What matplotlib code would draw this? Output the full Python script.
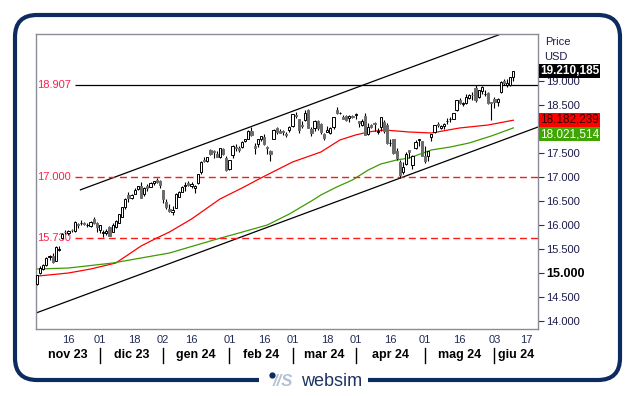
import numpy as np
import pandas as pd
import matplotlib
matplotlib.use("Agg")
import matplotlib.pyplot as plt
from matplotlib.patches import FancyBboxPatch, Rectangle

plt.rcParams['font.family'] = ['Liberation Sans', 'DejaVu Sans']

# trading days shown on the axis (exchange holidays removed)
holidays = ["2023-11-23", "2023-12-25", "2024-01-01", "2024-01-15", "2024-02-19",
            "2024-03-29", "2024-05-27", "2024-06-19"]
days = pd.bdate_range("2023-11-02", "2024-06-21")
days = days[~days.isin(pd.to_datetime(holidays))]

# daily candles, 2023-11-02 .. 2024-06-11
opens = [14760, 15000, 15080, 15170, 15330, 15360, 15250, 15480, 15720, 15860,
         15820, 15900, 15870, 16010, 16030, 16030, 15990, 15980, 16130, 16030,   # nov
         15900, 15830, 15820, 15950, 15850, 15950, 16040, 16170, 16380, 16620,
         16560, 16650, 16740, 16820, 16650, 16800, 16780, 16880, 16930, 16910,   # dic
         16720, 16480, 16330, 16270, 16360, 16580, 16690, 16800, 16870, 16800,
         16760, 16880, 17110, 17360, 17340, 17560, 17540, 17470, 17420, 17580, 17390,  # gen
         17170, 17460, 17620, 17610, 17630, 17740, 17800, 17960, 17650, 17680,
         17800, 17840, 17620, 17550, 17800, 18010, 17950, 17940, 17880, 17970,   # feb
         18060, 18300, 18200, 18080, 18180, 18400, 17990, 18010, 18170, 18100,
         17900, 17940, 17920, 18030, 18400, 18330, 18250, 18280, 18230, 18270,   # mar
         18290, 18160, 18080, 18270, 17900, 18080, 18110, 17930, 18030, 18150, 18080,
         17700, 17780, 17530, 17320, 17100, 17260, 17560, 17250, 17600, 17770, 17740,  # apr
         17430, 17440, 17840, 17930, 18100, 18010, 18060, 18160, 18200, 18210, 18400,
         18600, 18520, 18540, 18640, 18710, 18860, 18660, 18800, 18720, 18740, 18560,  # mag
         18620, 18560, 18760, 19000, 18920, 18910, 19080]                         # giu
highs = [14950, 15140, 15175, 15330, 15380, 15420, 15560, 15560, 15830, 15900,
         15900, 15920, 16080, 16030, 16100, 16050, 16040, 16080, 16170, 16050,
         16000, 15890, 15920, 15970, 16030, 16110, 16230, 16370, 16560, 16680,
         16650, 16760, 16810, 16900, 16780, 16860, 16890, 16910, 16970, 16930,
         16730, 16530, 16430, 16400, 16660, 16710, 16820, 16900, 16910, 16900,
         16830, 17070, 17330, 17410, 17420, 17590, 17560, 17530, 17600, 17600, 17440,
         17350, 17660, 17690, 17640, 17750, 17800, 17980, 18040, 17700, 17790,
         17860, 17890, 17650, 17560, 17990, 18040, 18000, 17980, 17930, 18060,
         18310, 18350, 18210, 18160, 18400, 18416, 18030, 18190, 18190, 18120,
         17920, 18060, 18030, 18240, 18460, 18360, 18290, 18300, 18290, 18300,
         18340, 18170, 18200, 18330, 18120, 18110, 18150, 18020, 18250, 18190, 18130,
         17780, 17800, 17600, 17360, 17320, 17510, 17570, 17450, 17760, 17800, 17750,
         17640, 17550, 17900, 18090, 18150, 18090, 18120, 18230, 18240, 18340, 18600,
         18650, 18560, 18720, 18720, 18760, 18907, 18820, 18890, 18810, 18760, 18570,
         18660, 18640, 19000, 19040, 19040, 19090, 19215]
lows = [14740, 14980, 15050, 15150, 15260, 15210, 15240, 15460, 15700, 15800,
        15790, 15840, 15860, 15930, 15990, 15990, 15960, 15950, 16020, 15850,
        15830, 15750, 15780, 15770, 15840, 15940, 16030, 16160, 16330, 16480,
        16530, 16640, 16730, 16550, 16600, 16700, 16780, 16840, 16880, 16760,
        16460, 16340, 16260, 16200, 16350, 16570, 16680, 16700, 16800, 16760,
        16670, 16860, 17070, 17300, 17320, 17450, 17400, 17410, 17400, 17460, 17130,
        17140, 17400, 17550, 17520, 17610, 17720, 17790, 17860, 17480, 17620,
        17750, 17660, 17480, 17330, 17780, 17900, 17910, 17880, 17830, 17930,
        18050, 18220, 17920, 18020, 18170, 18010, 17860, 17950, 17980, 17900,
        17760, 17930, 17900, 17990, 18320, 18310, 18210, 18170, 18140, 18230,
        18210, 18050, 18070, 17870, 17880, 18010, 17960, 17890, 17960, 17920, 17680,
        17650, 17480, 17360, 16974, 17060, 17250, 17400, 17170, 17580, 17650, 17440,
        17290, 17330, 17750, 17920, 18050, 17990, 18000, 18100, 18150, 18200, 18380,
        18530, 18470, 18530, 18620, 18600, 18560, 18650, 18720, 18690, 18520, 18190,
        18430, 18480, 18740, 18920, 18880, 18890, 19000]
closes = [14945, 15099, 15166, 15317, 15352, 15225, 15530, 15482, 15812, 15842,
          15880, 15887, 16068, 15987, 16040, 16007, 15996, 16069, 16030, 15947,
          15997, 15838, 15877, 15775, 16000, 16085, 16229, 16369, 16544, 16557,
          16624, 16730, 16800, 16560, 16762, 16777, 16878, 16907, 16898, 16826,
          16543, 16368, 16283, 16306, 16649, 16685, 16793, 16831, 16832, 16845,
          16800, 17063, 17314, 17330, 17417, 17470, 17516, 17421, 17596, 17476, 17137,
          17345, 17642, 17605, 17556, 17737, 17784, 17962, 17882, 17600, 17781,
          17845, 17685, 17601, 17483, 17972, 17937, 17922, 17937, 17874, 18043,
          18302, 18260, 17969, 18070, 18339, 18018, 17913, 18175, 18020, 17944,
          17808, 17985, 18021, 18240, 18339, 18339, 18211, 18177, 18280, 18255,
          18300, 18131, 18164, 17878, 18049, 18036, 18107, 17950, 18243, 17965, 17706,
          17707, 17493, 17394, 17037, 17210, 17471, 17526, 17431, 17718, 17783, 17441,
          17321, 17541, 17890, 18082, 18078, 18062, 18113, 18161, 18208, 18322, 18593,
          18537, 18546, 18675, 18713, 18705, 18596, 18809, 18869, 18736, 18538, 18536,
          18570, 18625, 18989, 18963, 18953, 19074, 19210.185]

# moving averages (candle index, value)
ma_red_idx = [0, 10, 17, 25, 33, 38, 42, 49, 58, 65, 71, 81, 90, 96, 101, 105, 110, 118, 125, 134, 143, 151]
ma_red = [14930, 14995, 15078, 15203, 15558, 15725, 15850, 16121, 16538, 16768, 16977,
          17310, 17519, 17769, 17874, 17936, 17978, 17936, 17915, 18020, 18082, 18182.239]
ma_green_idx = [0, 10, 24, 33, 42, 56, 64, 73, 80, 87, 90, 95, 100, 105, 109, 114, 118, 125, 131, 137, 144, 151]
ma_green = [15078, 15099, 15203, 15308, 15412, 15683, 15829, 15996, 16226, 16497, 16622,
            16789, 16935, 17143, 17269, 17352, 17394, 17561, 17623, 17707, 17853, 18021.514]

# trend channel (two points per line) and horizontal levels
chan_low = ([-0.3, 158.8], [14160, 18040])
chan_up = ([13.8, 158.8], [16730, 20266])
level_solid = 18907
levels_dashed = [17000, 15730]

tick_dates = ["2023-11-16", "2023-12-01", "2023-12-18", "2024-01-02", "2024-01-16",
              "2024-02-01", "2024-02-16", "2024-03-01", "2024-03-18", "2024-04-01",
              "2024-04-16", "2024-05-01", "2024-05-16", "2024-06-03", "2024-06-17"]
tick_labels = ["16", "01", "18", "02", "16", "01", "16", "01", "18", "01", "16", "01", "16", "03", "17"]
month_starts = ["2023-12-01", "2024-01-02", "2024-02-01", "2024-03-01", "2024-04-01",
                "2024-05-01", "2024-06-03"]
month_labels = ["nov 23", "dic 23", "gen 24", "feb 24", "mar 24", "apr 24", "mag 24", "giu 24"]


def fmt(v):
    return f"{v:,.0f}".replace(",", ".")


fig = plt.figure(figsize=(6.34, 3.96), dpi=100)
bg = fig.add_axes([0, 0, 1, 1], zorder=0)
bg.set_xlim(0, 634)
bg.set_ylim(396, 0)
bg.axis("off")

ax = fig.add_axes([36 / 634, (396 - 329) / 396, (538 - 36) / 634, (329 - 34) / 396], zorder=1)
x0, x1 = -0.29, 158.8
ax.set_xlim(x0, x1)
ax.set_ylim(13827, 19980)

# outer rounded frame with logo gap
bg.add_patch(FancyBboxPatch((15, 15), 605, 365, boxstyle="round,pad=0,rounding_size=22",
                            fc="none", ec="#0d2b5e", lw=3))
bg.add_patch(Rectangle((259, 372), 109, 14, fc="white", ec="none", zorder=3))
bg.plot([271.5], [374.5], "o", ms=3.5, color="#0d2b5e", zorder=4)
bg.text(273, 381, "//S", fontsize=12, fontweight="bold", fontstyle="italic",
        color="#b3c1d4", va="center", ha="left", zorder=4)
bg.text(301, 381, "websim", fontsize=13, color="#1d3461", va="center", ha="left", zorder=4)

# candles
o = np.array(opens, float)
h = np.array(highs, float)
l = np.array(lows, float)
c = np.array(closes, float)
idx = np.arange(len(c))
ax.vlines(idx, l, h, color="black", lw=0.8, zorder=3)
up = c >= o
body = np.maximum(np.abs(c - o), 12)
bottom = np.minimum(o, c)
ax.bar(idx[up], body[up], bottom=bottom[up], width=0.7, color="white",
       edgecolor="black", lw=0.7, zorder=4)
ax.bar(idx[~up], body[~up], bottom=bottom[~up], width=0.7, color="#6b6b6b",
       edgecolor="#6b6b6b", lw=0.7, zorder=4)

# moving averages, channel, levels
ax.plot(ma_red_idx, ma_red, color="#ff0000", lw=0.9, zorder=2)
ax.plot(ma_green_idx, ma_green, color="#3c9c00", lw=0.9, zorder=2)
ax.plot(*chan_low, color="black", lw=0.9, zorder=2)
ax.plot(*chan_up, color="black", lw=0.9, zorder=2)
ax.hlines(level_solid, 12, x1, color="black", lw=0.9, zorder=2)
ax.hlines(levels_dashed, 12, x1, color="#ff1a1a", lw=1.0, linestyles=(0, (5, 3)), zorder=2)
for lv in [level_solid] + levels_dashed:
    ax.text(0.003, lv, fmt(lv), transform=ax.get_yaxis_transform(), color="#ff1f4b",
            fontsize=8, va="center", ha="left", zorder=2)

# axes styling
for s in ax.spines.values():
    s.set_color("#8c8c99")
    s.set_linewidth(1)

# 18.000 sits under the green value box, so its label is left blank
yt = [14000, 14500, 15000, 15500, 16000, 16500, 17000, 17500, 18000, 18500, 19000]
ax.yaxis.tick_right()
ax.set_yticks(yt)
ax.set_yticklabels(["" if v == 18000 else fmt(v) for v in yt])
ax.tick_params(axis="y", length=4, width=0.8, color="#333333", labelsize=8,
               labelcolor="#1c1c4c", pad=2)
for t, v in zip(ax.get_yticklabels(), yt):
    if v == 15000:
        t.set_fontweight("bold")
        t.set_fontsize(9)
        t.set_color("black")

pos = {d: i for i, d in enumerate(days.strftime("%Y-%m-%d"))}
ax.set_xticks([pos[d] for d in tick_dates])
ax.set_xticklabels(tick_labels)
ax.tick_params(axis="x", length=0, labelsize=8, labelcolor="#222a55", pad=4)

tr = ax.get_xaxis_transform()
seps = [pos[d] for d in month_starts]
for s in seps:
    ax.plot([s, s], [-0.064, -0.115], transform=tr, color="black", lw=1, clip_on=False)
edges = [x0] + seps + [x1]
for a, b, lab in zip(edges[:-1], edges[1:], month_labels):
    ax.text((a + b) / 2, -0.089, lab, transform=tr, ha="center", va="center",
            fontsize=9, fontweight="bold", color="black")

# right side labels and value boxes (stacked so they do not overlap)
ax.text(1.014, 0.973, "Price", transform=ax.transAxes, fontsize=8, color="#1c1c4c",
        va="center", ha="left")
ax.text(1.012, 0.922, "USD", transform=ax.transAxes, fontsize=8, color="#1c1c4c",
        va="center", ha="left")
boxes = [(0.876, "19.210,185", "black", "white", "bold"),
         (0.709, "18.182,239", "#ff0000", "#300000", "normal"),
         (0.660, "18.021,514", "#3fa500", "white", "normal")]
for ypos, lab, fc, tc, fw in boxes:
    ax.text(1.004, ypos, lab, transform=ax.transAxes, fontsize=8.5, color=tc, fontweight=fw,
            va="center", ha="left", clip_on=False, zorder=10,
            bbox=dict(boxstyle="square,pad=0.08", fc=fc, ec="none"))

fig.savefig("out.png", dpi=100)
